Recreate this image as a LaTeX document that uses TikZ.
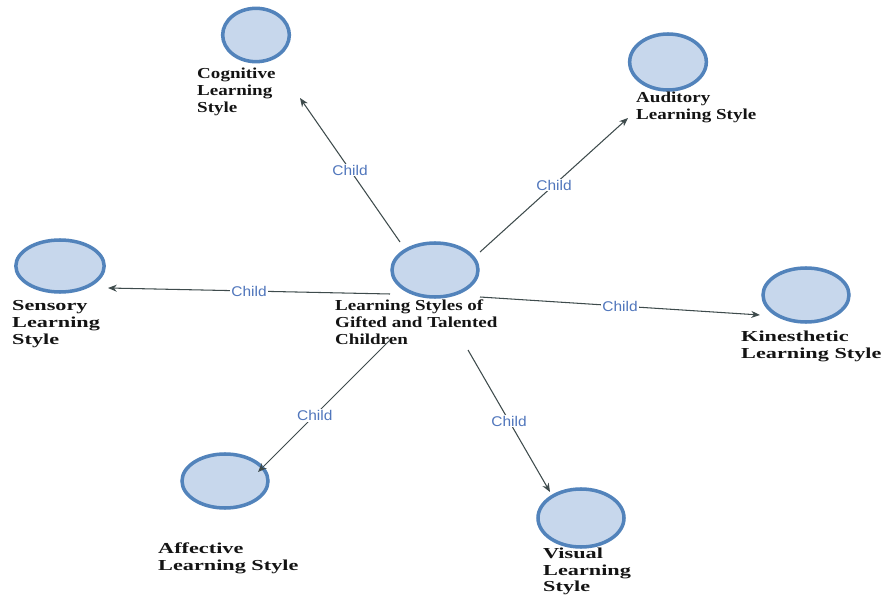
\documentclass[tikz,border=0pt]{standalone}
\usepackage{fontspec}
\usepackage{xcolor}
\usepackage{tikz}
\usetikzlibrary{shapes.geometric,arrows.meta}
\newfontfamily\lblfont[FakeStretch=1.25]{Liberation Serif}
\newfontfamily\widelblfont[FakeStretch=1.46]{Liberation Serif}
\newfontfamily\edgefont[FakeStretch=1.1]{Liberation Sans}
\definecolor{ring}{HTML}{5283BB}
\definecolor{disc}{HTML}{C7D7EC}
\definecolor{wire}{HTML}{3E4B4C}
\definecolor{tag}{HTML}{5076BC}
\definecolor{ink}{HTML}{141414}
\tikzset{
  topic/.style={ellipse, draw=ring, fill=disc, line width=3pt, inner sep=0pt},
  lbl/.style={anchor=north west, inner sep=0pt, align=left, text=ink,
    font=\lblfont\bfseries\fontsize{13}{14.5}\selectfont},
  widelbl/.style={lbl, font=\widelblfont\bfseries\fontsize{13}{14.5}\selectfont},
  link/.style={draw=wire, line width=0.9pt, -{Stealth[length=7.5pt,width=6pt]}},
  childtag/.style={fill=white, inner sep=1pt, text=tag,
    font=\edgefont\fontsize{12}{12}\selectfont},
}
\begin{document}
\begin{tikzpicture}[x=0.03cm, y=-0.03cm]
  \useasboundingbox (0,0) rectangle (887,595);

  % centre
  \node[topic, minimum width=2.58cm, minimum height=1.62cm] (ctr) at (435,270) {};
  \node[lbl] (ctr-lbl) at (335,300) {Learning Styles of\\Gifted and Talented\\Children};

  % children
  \node[topic, minimum width=2.0cm, minimum height=1.6cm] (cog) at (256,35) {};
  \node[lbl] (cog-lbl) at (197,68) {Cognitive\\Learning\\Style};

  \node[topic, minimum width=2.3cm, minimum height=1.68cm] (aud) at (668,62) {};
  \node[lbl] (aud-lbl) at (636,92) {Auditory\\Learning Style};

  \node[topic, minimum width=2.65cm, minimum height=1.56cm] (sen) at (60,266) {};
  \node[widelbl] (sen-lbl) at (12,300) {Sensory\\Learning\\Style};

  \node[topic, minimum width=2.58cm, minimum height=1.62cm] (kin) at (806,295) {};
  \node[widelbl] (kin-lbl) at (741,331) {Kinesthetic\\Learning Style};

  \node[topic, minimum width=2.58cm, minimum height=1.62cm] (aff) at (225,481) {};
  \node[widelbl] (aff-lbl) at (158,543) {Affective\\Learning Style};

  \node[topic, minimum width=2.58cm, minimum height=1.74cm] (vis) at (581,518) {};
  \node[widelbl, font=\widelblfont\bfseries\fontsize{13}{14}\selectfont] (vis-lbl) at (543,548) {Visual\\Learning\\Style};

  % connector ends
  \coordinate (ctr-cog) at (400,242); \coordinate (cog-in) at (300,98);
  \coordinate (ctr-aud) at (480,252); \coordinate (aud-in) at (628,118);
  \coordinate (ctr-sen) at (390,294); \coordinate (sen-in) at (108,288);
  \coordinate (ctr-kin) at (480,297); \coordinate (kin-in) at (760,315);
  \coordinate (ctr-aff) at (390,340); \coordinate (aff-in) at (258,472);
  \coordinate (ctr-vis) at (468,350); \coordinate (vis-in) at (550,492);

  \draw[link] (ctr-cog) -- (cog-in) node[childtag, midway] (t-cog) {Child};
  \draw[link] (ctr-aud) -- (aud-in) node[childtag, midway] (t-aud) {Child};
  \draw[link] (ctr-sen) -- (sen-in) node[childtag, midway] (t-sen) {Child};
  \draw[link] (ctr-kin) -- (kin-in) node[childtag, midway] (t-kin) {Child};
  \draw[link] (ctr-aff) -- (aff-in) node[childtag, pos=0.57] (t-aff) {Child};
  \draw[link] (ctr-vis) -- (vis-in) node[childtag, midway] (t-vis) {Child};
\end{tikzpicture}
\end{document}
